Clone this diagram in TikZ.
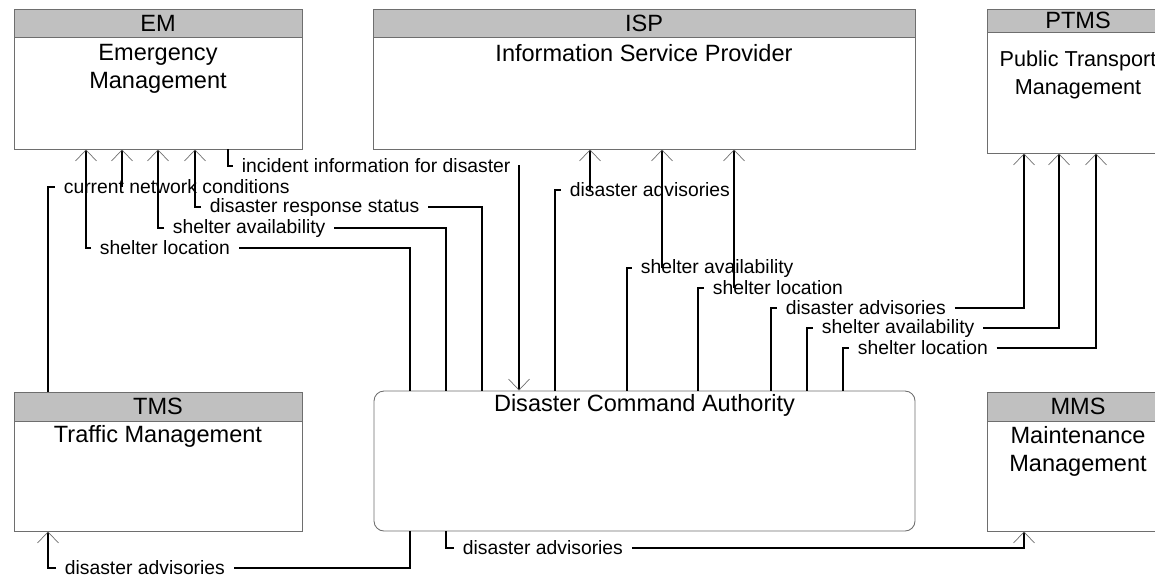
\documentclass[tikz,border=0pt]{standalone}
\usepackage{fontspec}
\setmainfont{Liberation Sans}
\usetikzlibrary{arrows.meta}
\definecolor{band}{HTML}{C0C0C0}
\definecolor{rim}{HTML}{6E6E6E}
\definecolor{tipc}{HTML}{707070}

\begin{document}
\begin{tikzpicture}[x=0.2mm,y=-0.2mm,
  sys/.style={draw=rim,line width=0.5pt,fill=white,inner sep=0},
  hdr/.style={draw=rim,line width=0.5pt,fill=band,inner sep=0,font=\fontsize{13.4}{16}\selectfont},
  ttl/.style={align=center,inner sep=0,font=\fontsize{13.4}{16}\selectfont},
  lab/.style={inner sep=1.7mm,anchor=west,font=\fontsize{11}{13}\selectfont},
  flow/.style={line width=1.5pt},
  into/.style={-{Straight Barb[length=2.2mm,width=4.2mm,line width=0.4pt,color=tipc]}}]
  \useasboundingbox (0,0) rectangle (1155,579);
  % systems
  \node[sys,minimum width=57.6mm,minimum height=28mm] (em) at (158,79) {};
  \node[hdr,minimum width=57.6mm,minimum height=5.6mm] (emh) at (158,23) {EM};
  \node[ttl] (emt) at (158,69) {Emergency\\Management};
  \node[sys,minimum width=108.4mm,minimum height=28mm] (isp) at (644,79) {};
  \node[hdr,minimum width=108.4mm,minimum height=5.6mm] (isph) at (644,23) {ISP};
  \node[ttl] (ispt) at (644,53) {Information Service Provider};
  \node[sys,minimum width=36.4mm,minimum height=28.8mm] (ptms) at (1078,81) {};
  \node[hdr,minimum width=36.4mm,minimum height=4.6mm] (ptmsh) at (1078,20.5) {PTMS};
  \node[ttl,font=\fontsize{12.3}{15.5}\selectfont] (ptmst) at (1078,75) {Public Transport\\Management};
  \node[sys,minimum width=57.6mm,minimum height=27.8mm] (tms) at (158,461.5) {};
  \node[hdr,minimum width=57.6mm,minimum height=5.8mm] (tmsh) at (158,406.5) {TMS};
  \node[ttl] (tmst) at (158,436) {Traffic Management};
  \node[sys,rounded corners=2mm,minimum width=108.2mm,minimum height=28mm] (dca) at (644.5,461) {};
  \node[ttl] (dcat) at (644.5,405) {Disaster Command Authority};
  \node[sys,minimum width=36.4mm,minimum height=27.8mm] (mms) at (1078,461.5) {};
  \node[hdr,minimum width=36.4mm,minimum height=5.8mm] (mmsh) at (1078,406.5) {MMS};
  \node[ttl] (mmst) at (1078,451) {Maintenance\\Management};
  % flow labels
  \node[lab] (inc) at (233,166) {incident information for disaster};
  \node[lab] (cnc) at (55,187) {current network conditions};
  \node[lab] (drs) at (201,207) {disaster response status};
  \node[lab] (emsa) at (164,228) {shelter availability};
  \node[lab] (emsl) at (91,248) {shelter location};
  \node[lab] (ispda) at (561,190) {disaster advisories};
  \node[lab] (ispsa) at (632,268) {shelter availability};
  \node[lab] (ispsl) at (704,288) {shelter location};
  \node[lab] (ptda) at (777,308) {disaster advisories};
  \node[lab] (ptsa) at (813,328) {shelter availability};
  \node[lab] (ptsl) at (849,348) {shelter location};
  \node[lab] (tmsda) at (56,568) {disaster advisories};
  \node[lab] (mmsda) at (454,548) {disaster advisories};
  % EM <-> DCA, TMS -> EM
  \draw[flow] (228,0 |- em.south) |- (inc.west);
  \draw[flow,into] (inc.east) -| (519,0 |- dca.north);
  \draw[flow] (48,0 |- tms.north) |- (cnc.west);
  \draw[flow,into] (cnc.center -| 122,0) -- (122,0 |- em.south);
  \draw[flow] (482,0 |- dca.north) |- (drs.east);
  \draw[flow,into] (drs.west) -| (195,0 |- em.south);
  \draw[flow] (446,0 |- dca.north) |- (emsa.east);
  \draw[flow,into] (emsa.west) -| (158,0 |- em.south);
  \draw[flow] (410,0 |- dca.north) |- (emsl.east);
  \draw[flow,into] (emsl.west) -| (86,0 |- em.south);
  % DCA -> ISP
  \draw[flow] (555,0 |- dca.north) |- (ispda.west);
  \draw[flow,into] (ispda.center -| 590,0) -- (590,0 |- isp.south);
  \draw[flow] (627,0 |- dca.north) |- (ispsa.west);
  \draw[flow,into] (ispsa.center -| 662,0) -- (662,0 |- isp.south);
  \draw[flow] (698,0 |- dca.north) |- (ispsl.west);
  \draw[flow,into] (ispsl.center -| 734,0) -- (734,0 |- isp.south);
  % DCA -> PTMS
  \draw[flow] (771,0 |- dca.north) |- (ptda.west);
  \draw[flow,into] (ptda.east) -| (1024,0 |- ptms.south);
  \draw[flow] (807,0 |- dca.north) |- (ptsa.west);
  \draw[flow,into] (ptsa.east) -| (1059,0 |- ptms.south);
  \draw[flow] (843,0 |- dca.north) |- (ptsl.west);
  \draw[flow,into] (ptsl.east) -| (1096,0 |- ptms.south);
  % DCA -> TMS, MMS
  \draw[flow] (410,0 |- dca.south) |- (tmsda.east);
  \draw[flow,into] (tmsda.west) -| (48,0 |- tms.south);
  \draw[flow] (446,0 |- dca.south) |- (mmsda.west);
  \draw[flow,into] (mmsda.east) -| (1024,0 |- mms.south);
\end{tikzpicture}
\end{document}
